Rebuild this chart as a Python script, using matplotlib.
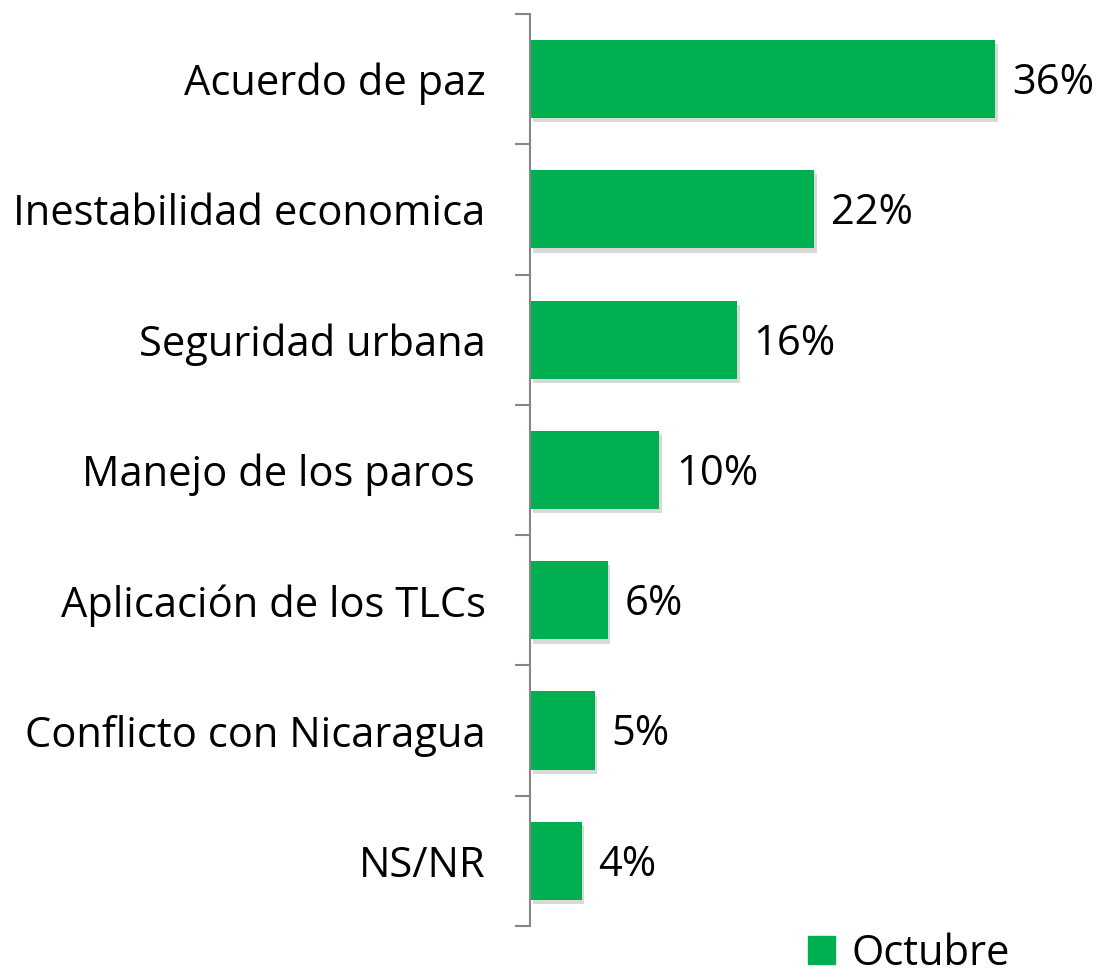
import matplotlib.pyplot as plt
import matplotlib.patheffects as pe
from matplotlib.patches import Patch

categories = ['Acuerdo de paz', 'Inestabilidad economica', 'Seguridad urbana',
              'Manejo de los paros ', 'Aplicación de los TLCs',
              'Conflicto con Nicaragua', 'NS/NR']
values = [36, 22, 16, 10, 6, 5, 4]
series_name = 'Octubre'

plt.rcParams['font.family'] = ['Open Sans', 'DejaVu Sans']

fig = plt.figure(figsize=(11.01, 9.77), dpi=100)
ax = fig.add_axes([0.4814, 0.0522, 0.4695, 0.9335])

y = list(range(len(categories)))
bars = ax.barh(y, values, height=0.6, color='#00B050', label=series_name)
for b in bars:
    b.set_path_effects([pe.SimplePatchShadow(offset=(2, -3), shadow_rgbFace='#000000', alpha=0.15),
                        pe.Normal()])

for yi, v in zip(y, values):
    ax.text(v + 1.3, yi + 0.03, f'{v}%', va='center', ha='left', fontsize=30)

ax.set_ylim(len(categories) - 0.5, -0.5)
ax.set_xlim(0, 40)
ax.set_yticks([i - 0.5 for i in range(len(categories) + 1)], minor=False)
ax.set_yticklabels([])
ax.set_yticks(y, minor=True)
ax.set_yticklabels(categories, minor=True, fontsize=30)
ax.tick_params(axis='y', which='major', length=11, width=1.5, color='#868686')
ax.tick_params(axis='y', which='minor', length=0, pad=32)
ax.set_xticks([])
for s in ['top', 'right', 'bottom']:
    ax.spines[s].set_visible(False)
ax.spines['left'].set_color('#868686')
ax.spines['left'].set_linewidth(1.5)

fig.legend(handles=[Patch(color='#00B050', label=series_name)], loc='center left',
           bbox_to_anchor=(808 / 1101, 1 - 954 / 977), frameon=False, fontsize=30,
           borderpad=0, borderaxespad=0,
           handlelength=0.65, handleheight=0.65, handletextpad=0.4)

fig.savefig('out.png', dpi=100)
